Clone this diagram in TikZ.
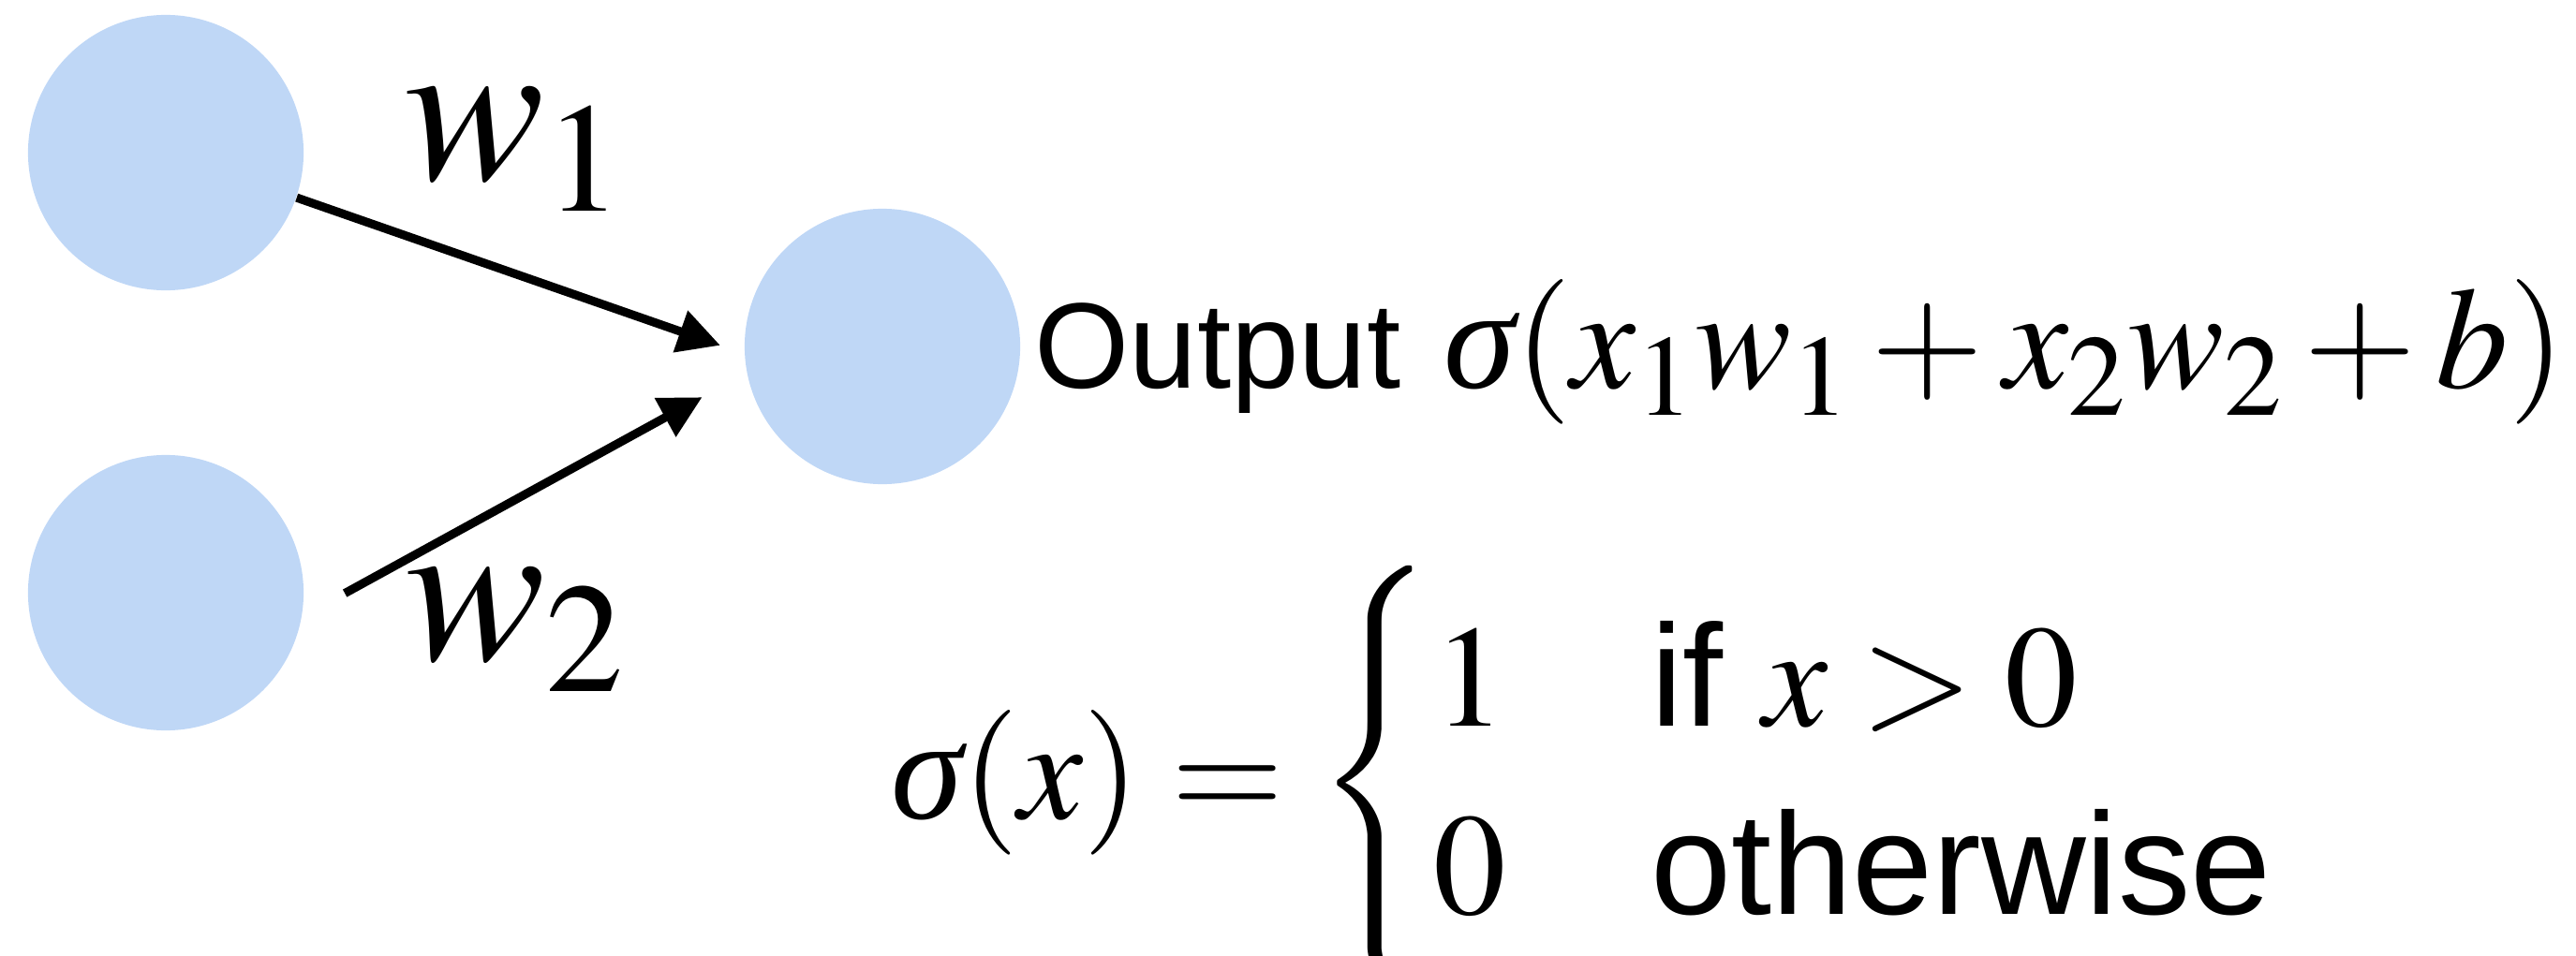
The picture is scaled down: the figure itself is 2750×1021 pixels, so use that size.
\documentclass[tikz,border=0pt]{standalone}
\usepackage{amsmath}
\usepackage{mathptmx}
\usepackage[no-math]{fontspec}
\setmainfont{Liberation Serif}
\setsansfont{Liberation Sans}
\usetikzlibrary{arrows.meta}
\definecolor{neuronblue}{RGB}{191,215,246}
\newcommand{\sigm}{\text{\rmfamily\itshape σ}}
\DeclareMathSizes{44}{44}{35}{26}

\begin{document}
\begin{tikzpicture}[x=0.01cm, y=-0.01cm,
    neuron/.style={circle, fill=neuronblue, minimum size=2.94cm, inner sep=0pt},
    link/.style={-{Triangle[length=0.45cm, width=0.45cm]}, line width=2.6pt},
    wlabel/.style={font=\fontsize{64}{70}\selectfont, inner sep=0pt}]
    \useasboundingbox (0,0) rectangle (2750,1021);
    \node[neuron] (in1) at (177,163) {};
    \node[neuron] (in2) at (177,633) {};
    \node[neuron] (out) at (942,370) {};
    \node[wlabel] (w1) at (549,160) {$w_1$};
    \node[wlabel] (w2) at (550,673) {$w_2$};
    \node[anchor=base west, inner sep=0pt, font=\fontsize{44}{48}\selectfont] (outlbl) at (1104,414)
        {{\fontsize{37}{40}\selectfont\sffamily Output}\hspace{2pt} $\sigm(x_1w_1 + x_2w_2 + b)$};
    \node[inner sep=0pt, font=\fontsize{44}{47.5}\selectfont] (act) at (1690,836)
        {$\sigm(x) = \begin{cases} 1 & \text{\sffamily if } x > 0 \\ 0 & \text{\sffamily otherwise} \end{cases}$};
    \draw[link, shorten >=0.27cm] (in1.-19) -- (out.183);
    \draw[link, shorten <=0.52cm, shorten >=0.54cm] (in2.-10) -- (out.191);
\end{tikzpicture}
\end{document}
